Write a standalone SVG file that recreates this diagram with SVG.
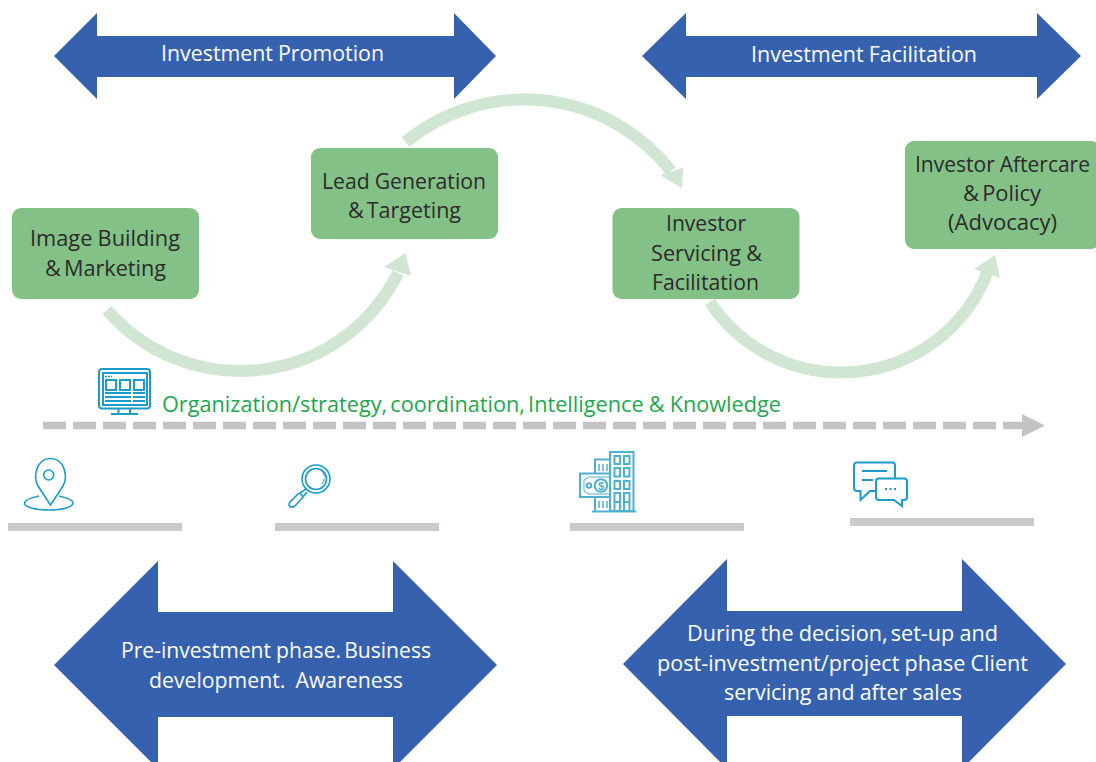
<svg xmlns="http://www.w3.org/2000/svg" width="1096" height="762" viewBox="0 0 1096 762">
<style>
.big{fill:#3561ae}
.box{fill:#83c187}
.t{font-family:"Open Sans","Noto Sans",sans-serif;font-size:22px;text-anchor:middle;word-spacing:-0.5px;white-space:pre}
.n{word-spacing:-2.5px}
.w{fill:#fff}
.k{fill:#2b2b2b}
.arc{fill:none;stroke:#d0e5d2;stroke-width:12}
.head{fill:#d0e5d2}
.bar{fill:#cbcac8}
.ic{fill:none;stroke:#1b9ccb;stroke-width:1.6}
.ic2{fill:none;stroke:#4fb0cd;stroke-width:2}
</style>
<rect width="1096" height="762" fill="#fff"/>
<g id="connectors">
<path class="arc" d="M107 310A176 176 0 0 0 398 273"/>
<polygon class="head" points="405.500,253 411,276 384,267"/>
<path class="arc" d="M405.500 142A186.600 186.600 0 0 1 671 171"/>
<polygon class="head" points="682,188 660,175 683,168"/>
<path class="arc" d="M710 302A157 157 0 0 0 987.500 272"/>
<polygon class="head" points="995,255 1000,278 974,269"/>
<path d="M43 425.500H1024" fill="none" stroke="#c3c3c3" stroke-width="7.500" stroke-dasharray="23 7"/>
<polygon points="1022,414 1045,425.500 1022,437" fill="#c3c3c3"/>
</g>
<g id="promotion"><polygon class="big" points="54,56 97,13 97,36 454,36 454,13 496,56 454,99 454,77 97,77 97,99"/><text class="t w" x="272.500" y="61" textLength="223" lengthAdjust="spacingAndGlyphs">Investment Promotion</text></g>
<g id="facilitation"><polygon class="big" points="642,56 686,13 686,36 1037,36 1037,13 1081,56 1037,99 1037,77 686,77 686,99"/><text class="t w" x="864" y="62" textLength="226" lengthAdjust="spacingAndGlyphs">Investment Facilitation</text></g>
<g id="image-building"><rect class="box" x="12" y="208" width="187" height="91" rx="9"/><text class="t k" x="105" y="246" textLength="150" lengthAdjust="spacingAndGlyphs">Image Building</text><text class="t k n" x="105.500" y="276" textLength="121" lengthAdjust="spacingAndGlyphs">&amp; Marketing</text></g>
<g id="lead-generation"><rect class="box" x="311" y="148" width="187" height="91" rx="9"/><text class="t k" x="404" y="189" textLength="164" lengthAdjust="spacingAndGlyphs">Lead Generation</text><text class="t k n" x="404.500" y="218" textLength="113" lengthAdjust="spacingAndGlyphs">&amp; Targeting</text></g>
<g id="investor-servicing"><rect class="box" x="612.500" y="208" width="187" height="91" rx="9"/><text class="t k" x="706" y="231" textLength="80" lengthAdjust="spacingAndGlyphs">Investor</text><text class="t k" x="706.500" y="261" textLength="111" lengthAdjust="spacingAndGlyphs">Servicing &amp;</text><text class="t k" x="705.500" y="290" textLength="107" lengthAdjust="spacingAndGlyphs">Facilitation</text></g>
<g id="investor-aftercare"><rect class="box" x="905" y="141" width="195" height="108" rx="9"/><text class="t k" x="1002.500" y="172" textLength="175" lengthAdjust="spacingAndGlyphs">Investor Aftercare</text><text class="t k n" x="1002" y="201" textLength="78" lengthAdjust="spacingAndGlyphs">&amp; Policy</text><text class="t k" x="1002.500" y="230" textLength="109" lengthAdjust="spacingAndGlyphs">(Advocacy)</text></g>
<g id="strategy-label"><text class="t" x="471.500" y="412" fill="#1ea650" textLength="619" lengthAdjust="spacingAndGlyphs"><tspan class="n">Organization/strategy, coordination, </tspan>Intelligence &amp; Knowledge</text></g>
<g id="monitor-icon" class="ic">
<rect x="99" y="369" width="51" height="39.500" rx="3" stroke-width="2"/><rect x="103" y="373" width="44" height="32" stroke-width="2"/>
<rect x="106" y="380" width="10" height="10" stroke-width="2"/><rect x="120" y="380" width="10" height="10" stroke-width="2"/><rect x="134" y="380" width="10" height="10" stroke-width="2"/>
<path d="M105 393H131M133 393H145M105 397H131M133 397H145M105 401H131M133 401H145" stroke-width="1.800"/><path d="M105 376.500H112" stroke-dasharray="2 1" stroke-width="1.500"/>
<path d="M118.500 409V414M130 409V414M111 414H138" stroke-width="2"/>
</g>
<g id="pin-icon" class="ic">
<path d="M50.500 505L38 486C33 477 36 458.500 50.500 458.500C65 458.500 68 477 63 486Z"/><circle cx="48.700" cy="475" r="5"/>
<path d="M39 496C30 498 24.500 500 24.500 503C24.500 507 35 510 49 510C63 510 73 507 73 503C73 500 68 498 59 496"/>
</g>
<g id="magnifier-icon" class="ic">
<circle cx="316" cy="479" r="14"/><circle cx="316" cy="479" r="10.500"/>
<path d="M322 471A10 10 0 0 1 322 484" stroke-width="1" stroke-dasharray="6 2"/>
<path d="M306 489L300 493L303 497L307 492M299 493L290 502Q288 505 290 506.500Q292 508 295 506L303 497"/>
</g>
<g id="building-icon" class="ic2">
<rect x="610" y="452" width="23.500" height="59"/>
<rect x="614.500" y="456" width="5.500" height="8"/><rect x="624" y="456" width="5.500" height="8"/>
<rect x="614.500" y="468" width="5.500" height="8.500"/><rect x="624" y="468" width="5.500" height="8.500"/>
<rect x="614.500" y="481" width="5.500" height="8"/><rect x="624" y="481" width="5.500" height="8"/>
<path d="M614.500 511V493H620V511M624 511V493H629.500V511M614.500 502H620M624 502H629.500"/>
<path d="M610 459.500H595V473M595 497V511M592 511.500H636"/><path d="M599 464V471M603 464V471M607 464V471M599 501V508M603 501V508M607 501V508" stroke-width="1.500"/>
<path d="M610 473.500H580V497H610"/><path d="M610 477H589L584 480V491L589 494H610" stroke-width="1"/><circle cx="601" cy="485.500" r="6.300"/><circle cx="589" cy="485.500" r="2.300"/>
<text x="601" y="489.500" font-family="Liberation Sans,sans-serif" font-size="11" font-weight="bold" text-anchor="middle" fill="#4fb0cd" stroke="none">$</text>
</g>
<g id="chat-icon" class="ic">
<path d="M856 462.500H892Q895 462.500 895 465.500V478M876 491H870L860.500 500V491H857Q854 491 854 488V465.500Q854 462.500 857 462.500" stroke-width="2"/>
<path d="M862 471H887M862 480H873" stroke-width="2"/>
<path d="M879 478.500H904Q907 478.500 907 481.500V497Q907 500 904 500H902V506L894 500H879Q876 500 876 497V481.500Q876 478.500 879 478.500Z" stroke-width="2"/>
<path d="M885 489H896" stroke-dasharray="2 2.500" stroke-width="2"/>
</g>
<g id="bars">
<rect class="bar" x="8" y="523" width="174" height="8"/><rect class="bar" x="275" y="523" width="164" height="8"/><rect class="bar" x="570" y="523" width="174" height="8"/><rect class="bar" x="850" y="518" width="184" height="8"/>
</g>
<g id="pre-investment"><polygon class="big" points="54,665 158,561 158,612 393,612 393,561 497,665 393,769 393,717 158,717 158,769"/><text class="t w" x="276" y="658" textLength="310" lengthAdjust="spacingAndGlyphs">Pre-investment <tspan class="n">phase. </tspan>Business</text><text class="t w" x="276" y="688" textLength="254" lengthAdjust="spacingAndGlyphs" xml:space="preserve">development.  Awareness</text></g>
<g id="during-decision"><polygon class="big" points="623,664 727,559 727,611 962,611 962,559 1066,664 962,769 962,716 727,716 727,769"/><text class="t w" x="842.500" y="641" textLength="311" lengthAdjust="spacingAndGlyphs">During the <tspan class="n">decision, </tspan>set-up and</text><text class="t w" x="842.500" y="671" textLength="371" lengthAdjust="spacingAndGlyphs">post-investment/project phase Client</text><text class="t w" x="843" y="700" textLength="238" lengthAdjust="spacingAndGlyphs">servicing and after sales</text></g>
</svg>
